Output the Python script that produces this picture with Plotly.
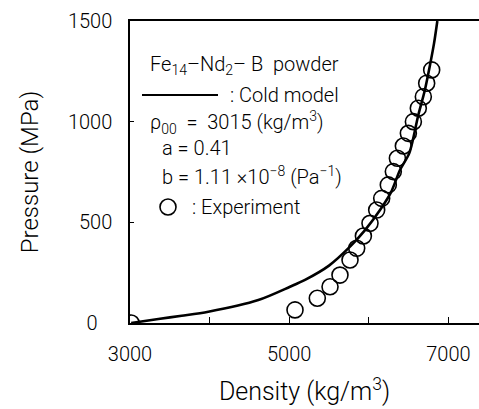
import plotly.graph_objects as go

# Experimental data (density kg/m^3, pressure MPa)
exp_density = [3015, 5073, 5353, 5513, 5638, 5764, 5848, 5932, 6015, 6099, 6162,
               6245, 6308, 6359, 6434, 6497, 6560, 6622, 6685, 6727, 6790]
exp_pressure = [0, 65, 123, 180, 238, 313, 371, 432, 495, 561, 619,
                686, 752, 818, 879, 942, 1000, 1067, 1124, 1191, 1257]

# Cold model curve
model_density = [3015, 3356, 3649, 3984, 4612, 5010, 5199, 5500, 5764, 5950, 6141,
                 6280, 6392, 6510, 6622, 6700, 6769, 6820, 6861]
model_pressure = [0, 20, 36, 56, 114, 180, 214, 285, 379, 460, 561,
                  650, 760, 845, 1033, 1150, 1282, 1390, 1500]

x_tickvals = [3000, 4000, 5000, 6000, 7000]
x_ticktext = ["3000", "", "5000", "", "7000"]
y_tickvals = [0, 500, 1000, 1500]
y_ticktext = ["0&nbsp;&nbsp;&nbsp;", "500", "1000", "1500"]

FONT = "Roboto, Liberation Sans, Arial, sans-serif"
W = 300

fig = go.Figure()
fig.add_trace(go.Scatter(x=model_density, y=model_pressure, mode="lines",
                         line=dict(color="black", width=2.6, shape="spline", smoothing=0.8),
                         showlegend=False, cliponaxis=True))
fig.add_trace(go.Scatter(x=exp_density, y=exp_pressure, mode="markers",
                         marker=dict(symbol="circle-open", size=16, color="black",
                                     line=dict(width=1.6, color="black")),
                         showlegend=False, cliponaxis=True))

L, T, PW, PH = 130, 21, 349, 302

def px(xp):
    return (xp - L) / PW

def py(yp):
    return (T + PH - yp) / PH

ann = [
    ("Fe<sub>14</sub>–Nd<sub>2</sub>– B  powder", 148, 65),
    (": Cold model", 228, 95),
    ("ρ<sub>00</sub>  =  3015 (kg/m<sup>3</sup>)", 148, 122),
    ("a = 0.41", 160, 148),
    ("b = 1.11 ×10<sup>−8</sup> (Pa<sup>−1</sup>)", 160, 176),
    (": Experiment", 190, 207),
]
annotations = [dict(text=t, x=px(xp), y=py(yp), xref="paper", yref="paper",
                    xanchor="left", yanchor="middle", showarrow=False,
                    font=dict(size=20, color="black", family=FONT, weight=W))
               for t, xp, yp in ann]

shapes = [
    dict(type="line", xref="paper", yref="paper", x0=px(142), x1=px(218),
         y0=py(95), y1=py(95), line=dict(color="black", width=2)),
    dict(type="circle", xref="paper", yref="paper", xsizemode="pixel", ysizemode="pixel",
         xanchor=px(168), yanchor=py(207), x0=-8, x1=8, y0=-8, y1=8,
         line=dict(color="black", width=1.6)),
]

fig.update_layout(
    width=479, height=409,
    margin=dict(l=L, r=479 - L - PW, t=T, b=409 - T - PH),
    paper_bgcolor="white", plot_bgcolor="white",
    font=dict(family=FONT, color="black", size=20, weight=W),
    annotations=annotations, shapes=shapes,
    xaxis=dict(range=[3000, 3000 + PW / 79.6 * 1000], tickvals=x_tickvals, ticktext=x_ticktext,
               ticks="inside", ticklen=6, tickwidth=1.2, tickcolor="black",
               showline=True, linecolor="black", linewidth=1.5, mirror=True,
               showgrid=False, zeroline=False, ticklabelstandoff=12,
               tickfont=dict(size=20, weight=W),
               title=dict(text="Density (kg/m<sup>3</sup>)", font=dict(size=25, weight=W), standoff=18)),
    yaxis=dict(range=[0, 1500], tickvals=y_tickvals, ticktext=y_ticktext,
               ticks="inside", ticklen=4, tickwidth=1.2, tickcolor="black",
               showline=True, linecolor="black", linewidth=1.5, mirror=False,
               showgrid=False, zeroline=False, ticklabelstandoff=12,
               tickfont=dict(size=20, weight=W),
               title=dict(text="Pressure (MPa)", font=dict(size=24, weight=W), standoff=22)),
)

fig.write_html("out.html")
